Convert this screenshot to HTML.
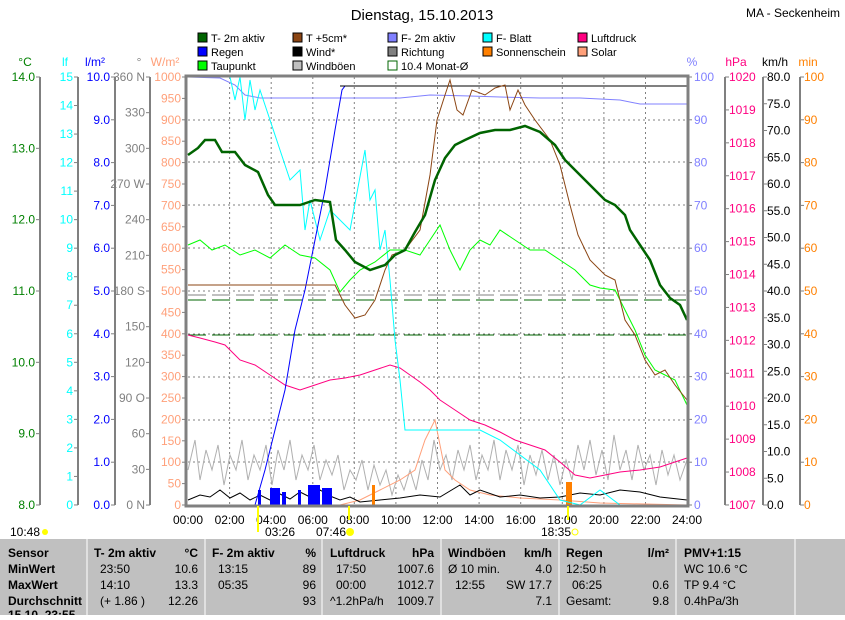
<!DOCTYPE html>
<html><head><meta charset="utf-8"><style>
body{margin:0;width:845px;height:615px;overflow:hidden;background:#fff;font-family:"Liberation Sans",sans-serif;}
svg text{font-family:"Liberation Sans",sans-serif;}
</style></head><body>
<svg width="845" height="615" xmlns="http://www.w3.org/2000/svg" font-size="12">
<text x="422" y="20" font-size="15" text-anchor="middle">Dienstag, 15.10.2013</text>
<text x="840" y="17" font-size="12" text-anchor="end">MA - Seckenheim</text>
<!-- legend -->
<g font-size="11">
<rect x="198" y="33" width="9" height="9" fill="#006400" stroke="#000"/><text x="211" y="42">T- 2m aktiv</text>
<rect x="198" y="47" width="9" height="9" fill="#0000ff" stroke="#000"/><text x="211" y="56">Regen</text>
<rect x="198" y="61" width="9" height="9" fill="#00ff00" stroke="#000"/><text x="211" y="70">Taupunkt</text>
<rect x="293" y="33" width="9" height="9" fill="#8b4513" stroke="#000"/><text x="306" y="42">T +5cm*</text>
<rect x="293" y="47" width="9" height="9" fill="#000" stroke="#000"/><text x="306" y="56">Wind*</text>
<rect x="293" y="61" width="9" height="9" fill="#c0c0c0" stroke="#000"/><text x="306" y="70">Windböen</text>
<rect x="388" y="33" width="9" height="9" fill="#8080ff" stroke="#000"/><text x="401" y="42">F- 2m aktiv</text>
<rect x="388" y="47" width="9" height="9" fill="#808080" stroke="#000"/><text x="401" y="56">Richtung</text>
<rect x="388" y="61" width="9" height="9" fill="#fff" stroke="#006400"/><text x="401" y="70">10.4 Monat-Ø</text>
<rect x="483" y="33" width="9" height="9" fill="#00ffff" stroke="#000"/><text x="496" y="42">F- Blatt</text>
<rect x="483" y="47" width="9" height="9" fill="#ff8000" stroke="#000"/><text x="496" y="56">Sonnenschein</text>
<rect x="578" y="33" width="9" height="9" fill="#ff0080" stroke="#000"/><text x="591" y="42">Luftdruck</text>
<rect x="578" y="47" width="9" height="9" fill="#ffa07a" stroke="#000"/><text x="591" y="56">Solar</text>
</g>
<!-- unit labels -->
<g font-size="12">
<text x="25" y="66" fill="#008000" text-anchor="middle">°C</text>
<text x="65" y="66" fill="#00ffff" text-anchor="middle">lf</text>
<text x="95" y="66" fill="#0000ff" text-anchor="middle">l/m²</text>
<text x="139" y="66" fill="#808080" text-anchor="middle">°</text>
<text x="165" y="66" fill="#ffa07a" text-anchor="middle">W/m²</text>
<text x="692" y="66" fill="#8080ff" text-anchor="middle">%</text>
<text x="736" y="66" fill="#ff0080" text-anchor="middle">hPa</text>
<text x="775" y="66" fill="#000" text-anchor="middle">km/h</text>
<text x="808" y="66" fill="#ff8000" text-anchor="middle">min</text>
</g>
<g id="axes" stroke="#808080" stroke-width="2" fill="none">
<line x1="40" y1="77" x2="40" y2="505"/><line x1="78" y1="77" x2="78" y2="505"/>
<line x1="115" y1="77" x2="115" y2="505"/><line x1="150" y1="77" x2="150" y2="505"/>
<line x1="725" y1="77" x2="725" y2="505"/><line x1="763" y1="77" x2="763" y2="505"/>
<line x1="800" y1="77" x2="800" y2="505"/>
</g>
<g font-size="12" id="ticks"></g>
<!-- plot grid -->
<g stroke="#808080" stroke-dasharray="2,3" stroke-width="1">
<line x1="188" y1="120" x2="687" y2="120"/><line x1="188" y1="162" x2="687" y2="162"/>
<line x1="188" y1="205" x2="687" y2="205"/><line x1="188" y1="248" x2="687" y2="248"/>
<line x1="188" y1="291" x2="687" y2="291"/><line x1="188" y1="334" x2="687" y2="334"/>
<line x1="188" y1="377" x2="687" y2="377"/><line x1="188" y1="420" x2="687" y2="420"/>
<line x1="188" y1="462" x2="687" y2="462"/>
<line x1="229.6" y1="77" x2="229.6" y2="505"/><line x1="271.2" y1="77" x2="271.2" y2="505"/>
<line x1="312.8" y1="77" x2="312.8" y2="505"/><line x1="354.3" y1="77" x2="354.3" y2="505"/>
<line x1="395.9" y1="77" x2="395.9" y2="505"/><line x1="437.5" y1="77" x2="437.5" y2="505"/>
<line x1="479.1" y1="77" x2="479.1" y2="505"/><line x1="520.7" y1="77" x2="520.7" y2="505"/>
<line x1="562.3" y1="77" x2="562.3" y2="505"/><line x1="603.9" y1="77" x2="603.9" y2="505"/>
<line x1="645.5" y1="77" x2="645.5" y2="505"/>
</g>
<line x1="188" y1="300" x2="687" y2="300" stroke="#006400" stroke-dasharray="18,6"/>
<line x1="188" y1="335" x2="687" y2="335" stroke="#006400" stroke-dasharray="18,6"/>
<line x1="188" y1="295" x2="687" y2="295" stroke="#808080" stroke-dasharray="18,6"/>
<!-- windböen -->
<polyline fill="none" stroke="#b0b0b0" points="188,470 195,440 200,480 206,450 212,470 218,445 224,485 230,455 236,470 242,440 248,480 254,455 260,470 266,445 272,485 278,450 284,470 290,440 296,480 302,455 308,470 314,445 320,480 326,460 332,475 338,455 344,490 350,470 356,480 362,460 368,490 374,465 380,485 386,470 392,495 398,475 404,490 410,470 416,490 422,460 428,480 434,440 440,470 446,455 452,480 458,450 464,470 470,445 476,480 482,455 488,470 494,440 500,480 506,450 512,470 518,445 524,485 530,455 536,475 542,450 548,480 554,455 560,485 566,460 572,480 578,445 584,470 590,440 596,475 602,450 608,480 614,435 620,470 626,450 632,480 638,445 644,470 650,455 656,485 662,450 668,475 674,455 680,480 687,460"/>
<!-- solar -->
<polyline fill="none" stroke="#ffa07a" points="188,505 340,505 360,500 380,490 400,480 415,470 425,440 435,420 445,470 455,480 470,490 490,495 520,498 560,500 600,503 687,505"/>
<!-- wind black -->
<polyline fill="none" stroke="#000" points="188,500 200,495 210,497 220,490 230,498 240,493 250,500 260,495 270,500 280,494 290,499 300,492 310,497 320,490 330,496 340,500 350,497 360,502 380,500 400,498 420,495 440,497 460,485 470,495 480,490 500,497 520,495 540,498 560,497 580,493 600,495 620,490 640,492 660,497 687,500"/>
<!-- rain bars -->
<g fill="#0000ff">
<rect x="258" y="490" width="3" height="15"/><rect x="270" y="488" width="10" height="17"/><rect x="282" y="492" width="4" height="13"/>
<rect x="298" y="490" width="3" height="15"/><rect x="308" y="485" width="12" height="20"/><rect x="322" y="488" width="10" height="17"/>
</g>
<rect x="372" y="485" width="3" height="20" fill="#ff8000"/>
<rect x="566" y="482" width="6" height="23" fill="#ff8000"/>
<!-- pressure -->
<polyline fill="none" stroke="#ff0080" points="188,335 200,338 215,342 225,345 240,360 255,365 270,375 285,385 300,390 315,385 330,380 345,378 360,375 375,370 390,365 400,368 410,375 420,382 430,390 440,400 455,410 470,420 485,425 500,432 515,440 530,445 545,450 560,462 575,475 590,478 605,475 620,472 640,470 660,467 687,458"/>
<!-- F-2m -->
<polyline fill="none" stroke="#8080ff" points="188,77 220,78 235,85 245,95 260,98 300,98 400,98 430,95 470,96 500,97 540,98 580,98 620,100 640,104 687,104"/>
<!-- F-Blatt -->
<polyline fill="none" stroke="#00ffff" points="188,77 230,77 235,100 240,77 245,120 250,80 255,110 260,90 270,120 280,150 290,180 300,170 305,230 310,200 320,240 330,210 340,220 350,230 365,150 370,200 375,190 380,250 385,230 390,280 395,340 400,380 405,430 420,430 480,430 500,440 540,470 560,500 580,505 600,490 620,505 687,505"/>
<!-- rain cumulative -->
<polyline fill="none" stroke="#0000ff" points="188,505 255,505 265,470 275,430 285,390 295,330 305,290 315,240 325,190 335,130 342,90 345,86 687,86"/>
<line x1="340" y1="86" x2="687" y2="86" stroke="#000"/>
<!-- dewpoint -->
<polyline fill="none" stroke="#00ff00" points="188,245 200,240 212,250 225,245 240,255 255,250 270,258 285,245 300,255 315,258 330,270 340,292 350,280 360,270 375,262 390,250 405,250 420,255 430,240 440,225 450,250 460,270 470,250 480,240 490,245 500,230 515,240 530,250 545,250 560,260 575,270 590,285 600,288 615,290 625,310 635,330 645,355 655,370 665,375 675,380 687,405"/>
<!-- T+5cm -->
<polyline fill="none" stroke="#8b4513" points="188,285 335,285 345,305 355,318 365,315 375,300 385,270 392,255 405,250 420,230 430,175 437,120 445,95 450,80 457,110 463,115 472,90 485,95 495,88 505,85 510,110 518,90 525,105 535,120 550,140 560,165 570,205 578,235 590,260 605,275 615,280 625,320 635,335 645,360 655,375 665,370 675,385 687,400"/>
<!-- T 2m -->
<polyline fill="none" stroke="#006400" stroke-width="2.5" points="188,155 198,148 205,140 215,140 222,152 235,152 245,165 258,172 268,195 275,205 300,205 315,200 330,202 336,240 345,250 355,262 370,270 385,265 395,255 405,250 415,232 425,215 435,180 445,158 455,145 465,140 480,133 495,130 510,130 525,126 540,132 555,145 565,160 575,170 585,180 595,190 605,200 615,205 625,215 630,230 640,245 650,260 660,285 670,298 680,305 687,320"/>
<!-- plot frame -->
<rect x="186" y="76" width="502" height="430" fill="none" stroke="#808080" stroke-width="3"/>
<!-- x labels -->
<g font-size="12" text-anchor="middle">
<text x="188" y="524">00:00</text><text x="229.6" y="524">02:00</text><text x="271.2" y="524">04:00</text>
<text x="312.8" y="524">06:00</text><text x="354.3" y="524">08:00</text><text x="395.9" y="524">10:00</text>
<text x="437.5" y="524">12:00</text><text x="479.1" y="524">14:00</text><text x="520.7" y="524">16:00</text>
<text x="562.3" y="524">18:00</text><text x="603.9" y="524">20:00</text><text x="645.5" y="524">22:00</text>
<text x="687" y="524">24:00</text>
</g>
<g font-size="12">
<text x="10" y="536">10:48</text><circle cx="45" cy="532" r="3" fill="#ffff00"/>
<text x="265" y="536">03:26</text><text x="316" y="536">07:46</text><circle cx="350" cy="532" r="4" fill="#ffff00"/>
<text x="541" y="536">18:35</text><circle cx="575" cy="532" r="3" fill="none" stroke="#ffff00"/>
<line x1="258" y1="506" x2="258" y2="532" stroke="#ffff00" stroke-width="2"/>
<line x1="349" y1="506" x2="349" y2="520" stroke="#ffff00" stroke-width="2"/>
<line x1="568" y1="506" x2="568" y2="520" stroke="#ffff00" stroke-width="2"/>
</g>
<!-- table -->
<rect x="0" y="539" width="845" height="76" fill="#c0c0c0"/>
<g stroke="#fff" stroke-width="1"><line x1="87" y1="539" x2="87" y2="615"/><line x1="205" y1="539" x2="205" y2="615"/><line x1="322" y1="539" x2="322" y2="615"/><line x1="441" y1="539" x2="441" y2="615"/><line x1="559" y1="539" x2="559" y2="615"/><line x1="676" y1="539" x2="676" y2="615"/><line x1="795" y1="539" x2="795" y2="615"/></g>
<g font-size="12" font-weight="bold">
<text x="8" y="557">Sensor</text><text x="8" y="573">MinWert</text><text x="8" y="589">MaxWert</text><text x="8" y="605">Durchschnitt</text><text x="8" y="619">15.10. 23:55</text>
<text x="94" y="557">T- 2m aktiv</text><text x="198" y="557" text-anchor="end">°C</text>
<text x="212" y="557">F- 2m aktiv</text><text x="316" y="557" text-anchor="end">%</text>
<text x="330" y="557">Luftdruck</text><text x="434" y="557" text-anchor="end">hPa</text>
<text x="448" y="557">Windböen</text><text x="552" y="557" text-anchor="end">km/h</text>
<text x="566" y="557">Regen</text><text x="669" y="557" text-anchor="end">l/m²</text>
<text x="684" y="557">PMV+1:15</text>
</g>
<g font-size="12">
<text x="100" y="573">23:50</text><text x="198" y="573" text-anchor="end">10.6</text>
<text x="100" y="589">14:10</text><text x="198" y="589" text-anchor="end">13.3</text>
<text x="100" y="605">(+ 1.86 )</text><text x="198" y="605" text-anchor="end">12.26</text>
<text x="218" y="573">13:15</text><text x="316" y="573" text-anchor="end">89</text>
<text x="218" y="589">05:35</text><text x="316" y="589" text-anchor="end">96</text>
<text x="316" y="605" text-anchor="end">93</text>
<text x="336" y="573">17:50</text><text x="434" y="573" text-anchor="end">1007.6</text>
<text x="336" y="589">00:00</text><text x="434" y="589" text-anchor="end">1012.7</text>
<text x="330" y="605">^1.2hPa/h</text><text x="434" y="605" text-anchor="end">1009.7</text>
<text x="448" y="573">Ø 10 min.</text><text x="552" y="573" text-anchor="end">4.0</text>
<text x="455" y="589">12:55</text><text x="552" y="589" text-anchor="end">SW 17.7</text>
<text x="552" y="605" text-anchor="end">7.1</text>
<text x="566" y="573">12:50 h</text>
<text x="572" y="589">06:25</text><text x="669" y="589" text-anchor="end">0.6</text>
<text x="566" y="605">Gesamt:</text><text x="669" y="605" text-anchor="end">9.8</text>
<text x="684" y="573">WC 10.6 °C</text><text x="684" y="589">TP 9.4 °C</text><text x="684" y="605">0.4hPa/3h</text>
</g>
<script>
(function(){
var g=document.getElementById('ticks'),ns='http://www.w3.org/2000/svg';
function t(x,y,s,c,a){var e=document.createElementNS(ns,'text');e.setAttribute('x',x);e.setAttribute('y',y+4);e.setAttribute('fill',c);e.setAttribute('text-anchor',a);e.textContent=s;g.appendChild(e);}
function tk(x1,x2,y){var l=document.createElementNS(ns,'line');l.setAttribute('x1',x1);l.setAttribute('x2',x2);l.setAttribute('y1',y);l.setAttribute('y2',y);l.setAttribute('stroke','#808080');g.appendChild(l);}
var i,y;
for(i=0;i<=6;i++){y=77+i*71.33;t(35,y,(14-i).toFixed(1),'#008000','end');tk(36,40,y);}
for(i=0;i<=15;i++){y=77+i*28.53;t(73,y,''+(15-i),'#00ffff','end');tk(74,78,y);}
for(i=0;i<=10;i++){y=77+i*42.8;t(110,y,(10-i).toFixed(1),'#0000ff','end');tk(111,115,y);}
var d=['360 N','330','300','270 W','240','210','180 S','150','120','90 O','60','30','0 N'];
for(i=0;i<=12;i++){y=77+i*35.67;t(145,y,d[i],'#808080','end');tk(146,150,y);}
for(i=0;i<=20;i++){y=77+i*21.4;t(181,y,''+(1000-50*i),'#ffa07a','end');tk(182,186,y);}
for(i=0;i<=10;i++){y=77+i*42.8;t(694,y,''+(100-10*i),'#8080ff','start');tk(688,692,y);}
for(i=0;i<=13;i++){y=77+i*32.92;t(729,y,''+(1020-i),'#ff0080','start');tk(725,729,y);}
for(i=0;i<=16;i++){y=77+i*26.75;t(767,y,(80-5*i).toFixed(1),'#000','start');tk(763,767,y);}
for(i=0;i<=10;i++){y=77+i*42.8;t(804,y,''+(100-10*i),'#ff8000','start');tk(800,804,y);}
})();
</script>
</svg>
</body></html>
